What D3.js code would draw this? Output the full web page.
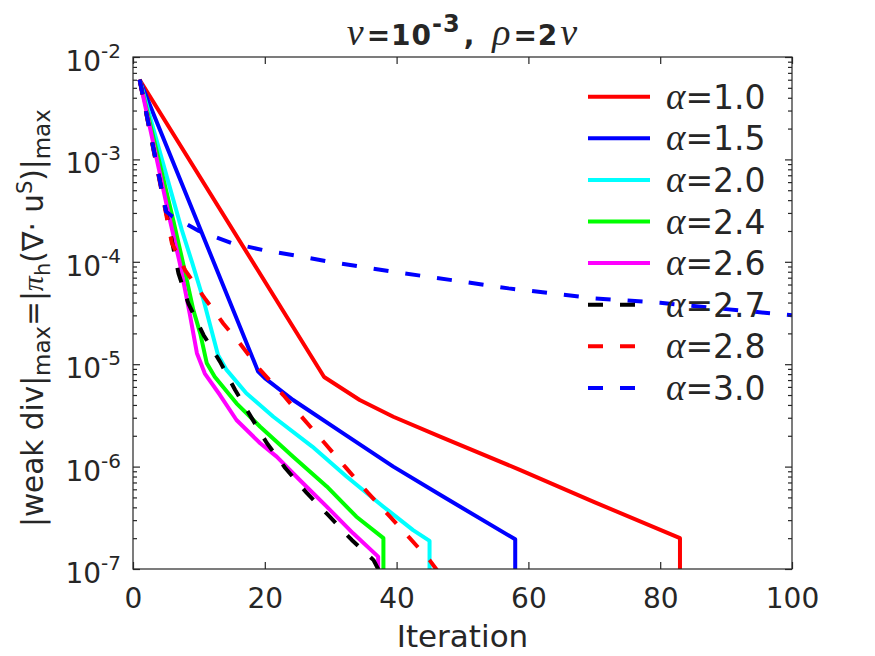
<!DOCTYPE html>
<html>
<head>
<meta charset="utf-8">
<script src="https://cdn.jsdelivr.net/npm/d3@7"></script>
<style>
  body { margin: 0; background: #fff; }
  text { font-family: "DejaVu Sans", sans-serif; fill: #262626; }
  .greek { font-family: "Liberation Serif", serif; font-style: italic; font-weight: normal; }
</style>
</head>
<body>
<div id="chart"></div>
<script>
// legend labels (alpha values)
var alphas = ["1.0", "1.5", "2.0", "2.4", "2.6", "2.7", "2.8", "3.0"];

// iteration / error readings per alpha (last points drop out of the axis)
var iter10 = [1, 29, 34.4, 39.5, 46.6, 58.7, 70, 83, 83];
var err10  = [6e-3, 7.5e-6, 4.47e-6, 3.07e-6, 1.96e-6, 9.3e-7, 4.5e-7, 2.0e-7, 1e-8];

var iter15 = [1, 19, 20, 24.3, 31.9, 39.5, 46.6, 58, 58];
var err15  = [6e-3, 8.45e-6, 7.3e-6, 4.47e-6, 2.11e-6, 1.0e-6, 5.3e-7, 1.95e-7, 1e-8];

var iter20 = [1, 7.4, 9, 10.7, 11.9, 12.9, 14.2, 17.2, 21.3, 27.2, 32.4, 38, 42.5, 45, 45];
var err20  = [6e-3, 2.05e-4, 9.7e-5, 4.24e-5, 2.16e-5, 1.23e-5, 8.8e-6, 5.2e-6, 3.07e-6, 1.57e-6, 8.0e-7, 4.06e-7, 2.4e-7, 1.88e-7, 1e-8];

var iter24 = [1, 6.1, 7.6, 9.15, 10.2, 11.2, 12.4, 15.7, 19.3, 24.3, 29.4, 33.9, 38, 38];
var err24  = [6e-3, 2.56e-4, 9.7e-5, 3.39e-5, 2.0e-5, 1.02e-5, 7.55e-6, 4.15e-6, 2.45e-6, 1.25e-6, 6.4e-7, 3.24e-7, 2.0e-7, 1e-8];

var iter26 = [1, 5.6, 7.1, 8.6, 9.7, 10.9, 13.2, 15.7, 19.3, 21.8, 25.3, 29.4, 33.4, 37.2, 37.2];
var err26  = [6e-3, 2.56e-4, 9.7e-5, 3.14e-5, 1.28e-5, 8.1e-6, 5.0e-6, 2.85e-6, 1.69e-6, 1.25e-6, 7.4e-7, 4.06e-7, 2.23e-7, 1.32e-7, 1e-8];

var iter27 = [1, 6.9, 8.4, 10.7, 13.2, 15.5, 18, 20.3, 23.1, 26.4, 29.6, 33.2, 36.5, 37.2, 37.6];
var err27  = [6e-3, 7.7e-5, 3.93e-5, 1.93e-5, 1.06e-5, 5.6e-6, 2.99e-6, 1.7e-6, 9.7e-7, 5.5e-7, 3.37e-7, 1.92e-7, 1.22e-7, 1.0e-7, 9e-8];

var iter28 = [1, 5.9, 7.9, 10.9, 13.7, 16.2, 19.3, 22.8, 25.8, 29.1, 32.4, 35.7, 39, 42, 45, 46, 46.5];
var err28  = [6e-3, 1.52e-4, 8.3e-5, 4.4e-5, 2.5e-5, 1.6e-5, 8.8e-6, 5.0e-6, 2.96e-6, 1.69e-6, 9.6e-7, 5.5e-7, 3.24e-7, 2.0e-7, 1.22e-7, 1.0e-7, 9e-8];

var iter30 = [1, 5, 6, 10, 15, 20, 25, 30, 40, 50, 57, 70, 80, 90, 100];
var err30  = [6e-3, 3.1e-4, 2.77e-4, 2.0e-4, 1.52e-4, 1.29e-4, 1.14e-4, 9.95e-5, 7.9e-5, 6.4e-5, 5.5e-5, 4.4e-5, 3.98e-5, 3.45e-5, 3.0e-5];

var xTicks = [0, 20, 40, 60, 80, 100];
var yTicks = [1e-7, 1e-6, 1e-5, 1e-4, 1e-3, 1e-2];

var iters = [iter10, iter15, iter20, iter24, iter26, iter27, iter28, iter30];
var errs = [err10, err15, err20, err24, err26, err27, err28, err30];
var colors = ["#ff0000", "#0000ff", "#00ffff", "#00ff00", "#ff00ff", "#000000", "#ff0000", "#0000ff"];
var dashed = [false, false, false, false, false, true, true, true];

var W = 875, H = 656;
var plotL = 133, plotR = 792, plotT = 57, plotB = 569;

var svg = d3.select("#chart").append("svg")
  .attr("width", W).attr("height", H);

var x = d3.scaleLinear().domain([0, 100]).range([plotL, plotR]);
var y = d3.scaleLog().domain([1e-7, 1e-2]).range([plotB, plotT]);

// minor log ticks
var minors = [];
yTicks.slice(0, -1).forEach(function(d) {
  for (var k = 2; k <= 9; k++) minors.push(d * k);
});

svg.append("clipPath").attr("id", "plotclip")
  .append("rect")
    .attr("x", plotL).attr("y", plotT)
    .attr("width", plotR - plotL).attr("height", plotB - plotT);

// lines
var series = alphas.map(function(a, i) {
  return {
    label: a,
    color: colors[i],
    dashed: dashed[i],
    pts: iters[i].map(function(it, j) { return [it, errs[i][j]]; })
  };
});

var line = d3.line()
  .x(function(d) { return x(d[0]); })
  .y(function(d) { return y(d[1]); });

svg.append("g").attr("clip-path", "url(#plotclip)")
  .selectAll("path")
  .data(series)
  .enter()
  .append("path")
    .attr("d", function(d) { return line(d.pts); })
    .attr("fill", "none")
    .attr("stroke", function(d) { return d.color; })
    .attr("stroke-width", 4)
    .attr("stroke-linejoin", "round")
    .attr("stroke-dasharray", function(d) { return d.dashed ? "15,17" : null; });

// axes (ticks point inward)
function styleAxis(g) {
  g.select(".domain").remove();
  g.selectAll(".tick line").attr("stroke", "#262626").attr("stroke-width", 1.2);
}

svg.append("g")
  .attr("transform", "translate(0," + plotB + ")")
  .call(d3.axisBottom(x).tickValues(xTicks).tickSizeInner(-7).tickSizeOuter(0).tickPadding(19))
  .call(styleAxis)
  .selectAll("text")
    .attr("font-size", 28)
    .attr("font-family", "DejaVu Sans")
    .attr("fill", "#262626");

svg.append("g")
  .attr("transform", "translate(0," + plotT + ")")
  .call(d3.axisTop(x).tickValues(xTicks).tickSizeInner(-7).tickSizeOuter(0).tickFormat(""))
  .call(styleAxis);

[["axisLeft", plotL], ["axisRight", plotR]].forEach(function(s) {
  svg.append("g")
    .attr("transform", "translate(" + s[1] + ",0)")
    .call(d3[s[0]](y).tickValues(yTicks).tickSizeInner(-7).tickSizeOuter(0).tickFormat(""))
    .call(styleAxis);
  svg.append("g")
    .attr("transform", "translate(" + s[1] + ",0)")
    .call(d3[s[0]](y).tickValues(minors).tickSizeInner(-4).tickSizeOuter(0).tickFormat(""))
    .call(styleAxis);
});

// y tick labels 10^n
svg.append("g").selectAll("text")
  .data(yTicks)
  .enter()
  .append("text")
    .attr("x", 121)
    .attr("y", function(d) { return y(d) + 14; })
    .attr("text-anchor", "end")
    .attr("font-size", 28)
    .each(function(d) {
      var t = d3.select(this);
      t.append("tspan").text("10");
      t.append("tspan").attr("font-size", 20).attr("dy", -13)
        .text(String(Math.round(Math.log10(d))));
    });

// axes box
svg.append("rect")
  .attr("x", plotL).attr("y", plotT)
  .attr("width", plotR - plotL).attr("height", plotB - plotT)
  .attr("fill", "none").attr("stroke", "#262626").attr("stroke-width", 1.2);

// x label
svg.append("text")
  .attr("x", (plotL + plotR) / 2).attr("y", 647)
  .attr("text-anchor", "middle")
  .attr("font-size", 31)
  .text("Iteration");

// y label
var yl = svg.append("text")
  .attr("transform", "translate(43,527) rotate(-90)")
  .attr("font-size", 29.5);
yl.append("tspan").text("|weak div|");
yl.append("tspan").attr("font-size", 23).attr("dy", 7).text("max");
yl.append("tspan").attr("dy", -7).text("=|");
yl.append("tspan").attr("class", "greek").attr("font-size", 30).text("\u03c0");
yl.append("tspan").attr("font-size", 21).attr("dy", 7).text("h");
yl.append("tspan").attr("dy", -7).text("(\u2207\u00b7 u");
yl.append("tspan").attr("font-size", 21).attr("dy", -11).text("S");
yl.append("tspan").attr("dy", 11).text(")|");
yl.append("tspan").attr("font-size", 23).attr("dy", 7).text("max");

// title
var tt = svg.append("text")
  .attr("x", (plotL + plotR) / 2).attr("y", 45)
  .attr("text-anchor", "middle")
  .attr("font-size", 28)
  .attr("font-weight", "bold")
  .attr("letter-spacing", 1);
tt.append("tspan").attr("class", "greek").attr("font-size", 38).text("\u03bd");
tt.append("tspan").attr("dx", 2).text("=10");
tt.append("tspan").attr("font-size", 24).attr("dy", -13).text("-3");
tt.append("tspan").attr("dy", 13).attr("dx", 3).text(", ");
tt.append("tspan").attr("class", "greek").attr("font-size", 38).attr("dx", 6).text("\u03c1");
tt.append("tspan").attr("dx", 2).text("=2");
tt.append("tspan").attr("class", "greek").attr("font-size", 38).attr("dx", 2).text("\u03bd");

// legend
var leg = svg.append("g").selectAll("g")
  .data(series)
  .enter()
  .append("g")
    .attr("transform", function(d, i) { return "translate(0," + (96.7 + i * 41.6) + ")"; });

leg.append("line")
  .attr("x1", 588).attr("x2", 650)
  .attr("stroke", function(d) { return d.color; })
  .attr("stroke-width", 4)
  .attr("stroke-dasharray", function(d) { return d.dashed ? "15,17" : null; });

leg.append("text")
  .attr("x", 666)
  .attr("y", 12)
  .attr("font-size", 33)
  .attr("fill", "#000")
  .each(function(d) {
    var t = d3.select(this);
    t.append("tspan").attr("class", "greek").attr("font-size", 37).text("\u03b1");
    t.append("tspan").text("=" + d.label);
  });
</script>
</body>
</html>
